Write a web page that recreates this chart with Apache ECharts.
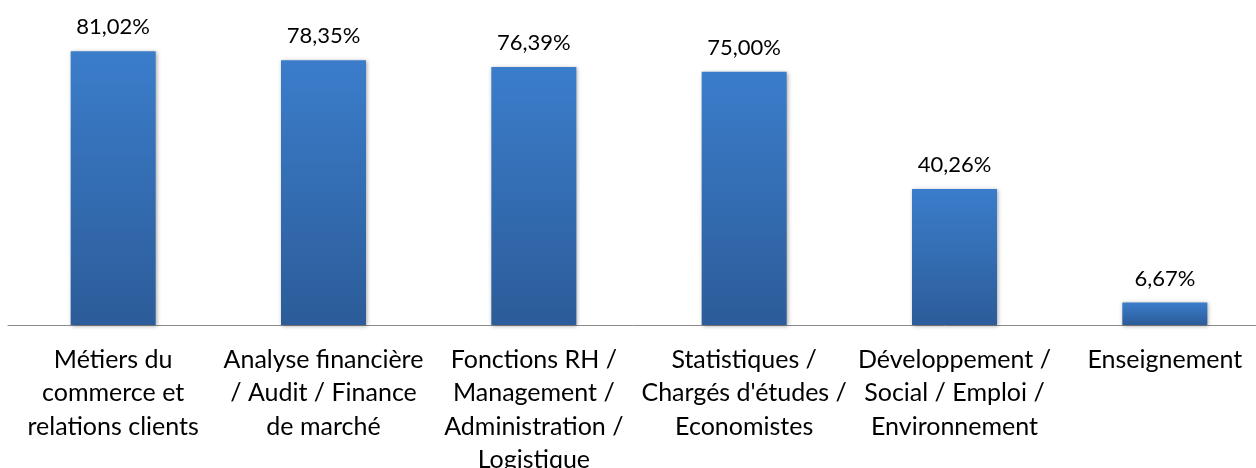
<!DOCTYPE html>
<html>
<head>
<meta charset="utf-8">
<script src="https://cdn.jsdelivr.net/npm/echarts@6/dist/echarts.min.js"></script>
<style>
  html, body { margin: 0; padding: 0; background: #fff; }
  #chart { width: 1256px; height: 468px; }
</style>
</head>
<body>
<div id="chart"></div>
<script>
// catégories (retours à la ligne comme sur l'original)
const categories = [
  'Métiers du\ncommerce et\nrelations clients',
  'Analyse financière\n/ Audit / Finance\nde marché',
  'Fonctions RH /\nManagement /\nAdministration /\nLogistique',
  'Statistiques /\nChargés d\'études /\nEconomistes',
  'Développement /\nSocial / Emploi /\nEnvironnement',
  'Enseignement'
]
const values = [81.02, 78.35, 76.39, 75.00, 40.26, 6.67]

const chart = echarts.init(document.getElementById('chart'))

const option = {
  animation: false,
  grid: {
    left: 8,
    right: -14,
    top: 21,
    bottom: 143,
    containLabel: false,
    outerBoundsMode: 'none'
  },
  xAxis: {
    type: 'category',
    data: categories,
    axisLine: { show: true, lineStyle: { color: '#8c8c8c', width: 1 } },
    axisTick: { show: false },
    axisLabel: {
      interval: 0,
      margin: 18,
      color: '#000',
      fontSize: 25,
      lineHeight: 33.5,
      fontFamily: 'Lato, "Open Sans", sans-serif'
    }
  },
  yAxis: {
    type: 'value',
    min: 0,
    max: 90,
    show: false,
    splitLine: { show: false }
  },
  series: [
    {
      type: 'bar',
      data: values,
      barWidth: 85,
      itemStyle: {
        color: new echarts.graphic.LinearGradient(0, 0, 0, 1, [
          { offset: 0, color: '#3b7dcb' },
          { offset: 1, color: '#2c5c99' }
        ]),
        shadowColor: 'rgba(0,0,0,0.35)',
        shadowBlur: 4,
        shadowOffsetX: 1,
        shadowOffsetY: 1
      },
      label: {
        show: true,
        position: 'top',
        distance: 13,
        color: '#000',
        fontSize: 22,
        fontFamily: 'Lato, "Open Sans", sans-serif',
        formatter: (p) => p.value.toFixed(2).replace('.', ',') + '%'
      }
    }
  ]
}

chart.setOption(option)
</script>
</body>
</html>
